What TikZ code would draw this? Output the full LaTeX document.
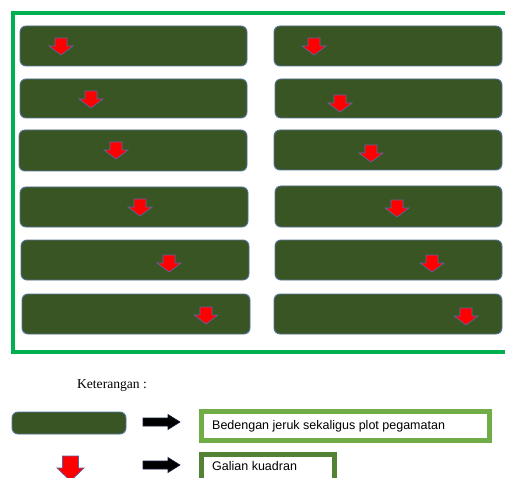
\documentclass[tikz,border=0pt]{standalone}
\usepackage{fontspec}
\setmainfont{Liberation Serif}
\newfontfamily\arialfont{Liberation Sans}
\definecolor{framegreen}{RGB}{0,176,80}
\definecolor{bedfill}{RGB}{58,85,36}
\definecolor{bededge}{RGB}{85,115,155}
\definecolor{arrowedge}{RGB}{90,100,160}
\definecolor{legendlight}{RGB}{112,173,71}
\definecolor{legenddark}{RGB}{84,130,53}
\definecolor{blackedge}{RGB}{20,30,60}
\tikzset{
  bed/.style={draw=bededge, line width=0.9pt, fill=bedfill, rounded corners=6pt},
  digshape/.style={fill=red, draw=arrowedge, line width=0.7pt, line join=miter},
  dig/.pic={
    \draw[digshape]
      (-6,0) -- (6,0) -- (6,8) -- (12,8) -- (0,17) -- (-12,8) -- (-6,8) -- cycle;
  },
  bigdig/.pic={
    \draw[digshape]
      (-8,0) -- (8,0) -- (8,12) -- (13.5,12) -- (0,25) -- (-13.5,12) -- (-8,12) -- cycle;
  },
  pointer/.pic={
    \draw[fill=black, draw=blackedge, line width=0.6pt]
      (0,-4) -- (25,-4) -- (25,-7.5) -- (37,0) -- (25,7.5) -- (25,4) -- (0,4) -- cycle;
  },
  legendbox/.style={line width=5pt, fill=white},
  legendtext/.style={anchor=west, inner sep=0pt, font=\arialfont\fontsize{12.5}{14}\selectfont},
}
\begin{document}
\begin{tikzpicture}[x=1pt, y=-1pt]
\useasboundingbox (0,0) rectangle (505,478);
\clip (0,0) rectangle (505,478);

% field frame
\draw[framegreen, line width=3.5pt] (520,13) -- (13,13) -- (13,352) -- (520,352);

% beds, left column
\path[bed] (20,26)  rectangle (247,66)  node[midway] (L1) {};
\path[bed] (20,79)  rectangle (247,118) node[midway] (L2) {};
\path[bed] (19,130) rectangle (247,171) node[midway] (L3) {};
\path[bed] (20,187) rectangle (248,227) node[midway] (L4) {};
\path[bed] (21,240) rectangle (249,280) node[midway] (L5) {};
\path[bed] (22,294) rectangle (250,334) node[midway] (L6) {};
% beds, right column
\path[bed] (274,26)  rectangle (502,66)  node[midway] (R1) {};
\path[bed] (275,79)  rectangle (502,118) node[midway] (R2) {};
\path[bed] (274,130) rectangle (502,170) node[midway] (R3) {};
\path[bed] (275,186) rectangle (502,227) node[midway] (R4) {};
\path[bed] (275,240) rectangle (502,280) node[midway] (R5) {};
\path[bed] (274,294) rectangle (502,334) node[midway] (R6) {};

% quadrant digging points
\pic at (61,38)  {dig};
\pic at (91,91)  {dig};
\pic at (116,142) {dig};
\pic at (140,199) {dig};
\pic at (169,255) {dig};
\pic at (206,307) {dig};
\pic at (314,38)  {dig};
\pic at (340,95)  {dig};
\pic at (371,145) {dig};
\pic at (397,200) {dig};
\pic at (432,255) {dig};
\pic at (466,308) {dig};

% legend
\node[inner sep=0pt, font=\fontsize{13.6}{15}\selectfont] (ket) at (112,386) {Keterangan :};

\path[bed] (12,412) rectangle (126,434) node[midway] (keybed) {};
\pic at (143,422) {pointer};
\draw[legendbox, draw=legendlight] (201.5,411.5) rectangle (489.5,440.5);
\node[legendtext] (bedtext) at (212,426) {Bedengan jeruk sekaligus plot pegamatan};

\pic at (70.5,456) {bigdig};
\pic at (143,465) {pointer};
\draw[legendbox, draw=legenddark] (201.5,454.5) rectangle (334.5,495);
\node[legendtext] (digtext) at (212,466) {Galian kuadran};
\end{tikzpicture}
\end{document}
